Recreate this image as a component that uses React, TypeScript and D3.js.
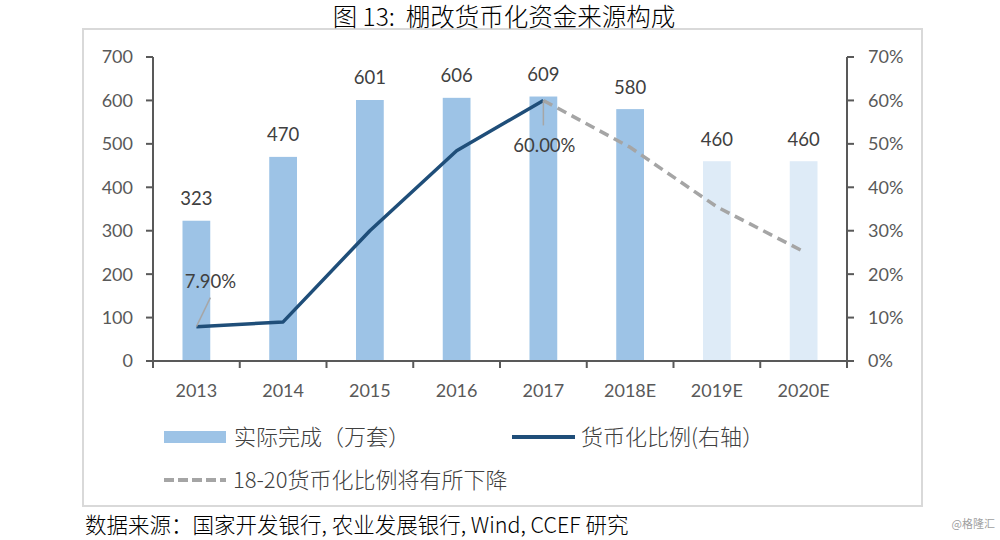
import React from 'react';
import * as d3 from 'd3';

const categories = ['2013', '2014', '2015', '2016', '2017', '2018E', '2019E', '2020E'];
const completed = [323, 470, 601, 606, 609, 580, 460, 460];
const isForecastBar = [false, false, false, false, false, false, true, true];
const ratioCategories = ['2013', '2014', '2015', '2016', '2017'];
const ratioValues = [7.9, 9.0, 30.0, 48.4, 60.0];
const forecastCategories = ['2017', '2018E', '2019E', '2020E'];
const forecastValues = [60.0, 49.2, 35.5, 25.2];
const leftTicks = [0, 100, 200, 300, 400, 500, 600, 700];
const rightTicks = [0, 10, 20, 30, 40, 50, 60, 70];

const TITLE = '图 13:  棚改货币化资金来源构成';
const SOURCE = '数据来源：国家开发银行, 农业发展银行, Wind, CCEF 研究';
const LEG1 = '实际完成（万套）';
const LEG2 = '货币化比例(右轴）';
const LEG3 = '18-20货币化比例将有所下降';

const CJK = '"Noto Sans CJK SC", "Noto Sans", sans-serif';
const NUM = 'Lato, "Open Sans", sans-serif';

export default function App() {
  const left = 153, right = 847, top = 57, bottom = 361;
  const x = d3.scaleBand<string>().domain(categories).range([left, right]).paddingInner(0.68).paddingOuter(0.34);
  const yL = d3.scaleLinear().domain([0, 700]).range([bottom, top]);
  const yR = d3.scaleLinear().domain([0, 70]).range([bottom, top]);
  const cx = (c: string) => (x(c) as number) + x.bandwidth() / 2;
  const step = x.step();
  const boundaries = d3.range(categories.length + 1).map(i => left + i * step);

  const line = d3.line<number>().x((_, i) => cx(ratioCategories[i])).y(d => yR(d));
  const fline = d3.line<number>().x((_, i) => cx(forecastCategories[i])).y(d => yR(d));

  const axisColor = '#595959';
  const p2013 = { x: cx('2013'), y: yR(ratioValues[0]) };
  const p2017 = { x: cx('2017'), y: yR(ratioValues[4]) };

  return (
    <svg width={1000} height={540} style={{ position: 'absolute', left: 0, top: 0, background: '#fff' }}>
      <rect x={0} y={0} width={1000} height={540} fill="#fff" />
      <rect x={83} y={29} width={839} height={477} fill="none" stroke="#D9D9D9" strokeWidth={2} />
      <text x={504} y={25.5} textAnchor="middle" fontFamily={CJK} fontWeight={300} fontSize={24.5} fill="#000" style={{ whiteSpace: 'pre' }}>{TITLE}</text>

      {/* bars */}
      {categories.map((c, i) => (
        <rect key={c} x={x(c)} y={yL(completed[i])} width={x.bandwidth()} height={bottom - yL(completed[i])}
          fill={isForecastBar[i] ? '#DEEBF7' : '#9DC3E6'} />
      ))}
      {categories.map((c, i) => (
        <text key={'l' + c} x={cx(c)} y={yL(completed[i]) - 15.5} textAnchor="middle" fontFamily={NUM} fontSize={18.5} fill="#404040">{completed[i]}</text>
      ))}

      {/* axes */}
      <line x1={left} x2={left} y1={top} y2={bottom} stroke={axisColor} strokeWidth={2} />
      <line x1={right} x2={right} y1={top} y2={bottom} stroke={axisColor} strokeWidth={2} />
      <line x1={left} x2={right} y1={bottom} y2={bottom} stroke={axisColor} strokeWidth={2} />
      {leftTicks.map(t => (
        <g key={'lt' + t}>
          <line x1={left - 7} x2={left} y1={yL(t)} y2={yL(t)} stroke={axisColor} strokeWidth={2} />
          <text x={133} y={yL(t)} dy="0.36em" textAnchor="end" fontFamily={NUM} fontSize={18} fill={axisColor}>{t}</text>
        </g>
      ))}
      {rightTicks.map(t => (
        <g key={'rt' + t}>
          <line x1={right} x2={right + 7} y1={yR(t)} y2={yR(t)} stroke={axisColor} strokeWidth={2} />
          <text x={868} y={yR(t)} dy="0.36em" textAnchor="start" fontFamily={NUM} fontSize={18} fill={axisColor}>{t + '%'}</text>
        </g>
      ))}
      {boundaries.map((b, i) => (
        <line key={'xt' + i} x1={b} x2={b} y1={bottom} y2={bottom + 7} stroke={axisColor} strokeWidth={2} />
      ))}
      {categories.map(c => (
        <text key={'xl' + c} x={cx(c)} y={397} textAnchor="middle" fontFamily={NUM} fontSize={18} fill={axisColor}>{c}</text>
      ))}

      {/* lines */}
      <path d={fline(forecastValues) || ''} fill="none" stroke="#A5A5A5" strokeWidth={3.5} strokeDasharray="10 6" />
      <path d={line(ratioValues) || ''} fill="none" stroke="#1F4E79" strokeWidth={3.5} strokeLinejoin="round" />

      {/* leader lines + labels */}
      <line x1={p2013.x} y1={p2013.y} x2={p2013.x + 14} y2={p2013.y - 29} stroke="#A6A6A6" strokeWidth={1.5} />
      <text x={p2013.x + 14} y={288} textAnchor="middle" fontFamily={NUM} fontSize={18.5} fill="#404040">7.90%</text>
      <line x1={p2017.x} y1={p2017.y} x2={p2017.x} y2={p2017.y + 25} stroke="#A6A6A6" strokeWidth={1.5} />
      <text x={p2017.x + 1} y={151.5} textAnchor="middle" fontFamily={NUM} fontSize={18.5} fill="#404040">60.00%</text>

      {/* legend */}
      <rect x={164} y={431} width={62} height={12} fill="#9DC3E6" />
      <text x={234} y={437} dy="0.36em" fontFamily={CJK} fontWeight={300} fontSize={22} fill="#404040">{LEG1}</text>
      <line x1={512} x2={575} y1={437} y2={437} stroke="#1F4E79" strokeWidth={4} />
      <text x={581} y={437} dy="0.36em" fontFamily={CJK} fontWeight={300} fontSize={22} fill="#404040">{LEG2}</text>
      <line x1={164} x2={226} y1={480} y2={480} stroke="#A5A5A5" strokeWidth={4} strokeDasharray="10 4" />
      <text x={233} y={480} dy="0.36em" fontFamily={CJK} fontWeight={300} fontSize={22} fill="#404040">{LEG3}</text>

      <text x={85} y={525} dy="0.36em" fontFamily={CJK} fontWeight={300} fontSize={21.5} fill="#000">{SOURCE}</text>
      <text x={995} y={524} dy="0.36em" textAnchor="end" fontFamily={CJK} fontSize={11} fill="#A0A0A0">@格隆汇</text>
    </svg>
  );
}
